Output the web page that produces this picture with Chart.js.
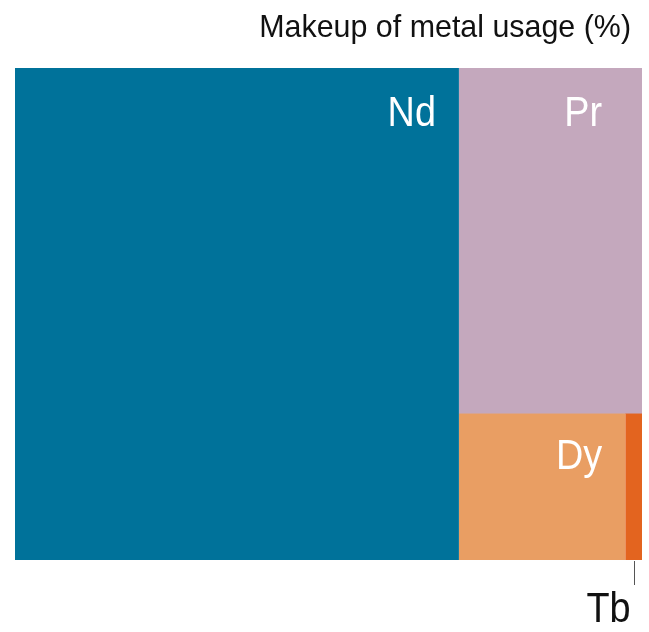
<!DOCTYPE html>
<html>
<head>
<meta charset="utf-8">
<script src="https://cdn.jsdelivr.net/npm/chart.js@4"></script>
<style>
  html,body{margin:0;padding:0;background:#fff;}
  #wrap{width:649px;height:632px;}
</style>
</head>
<body>
<div id="wrap"><canvas id="chart" width="649" height="632"></canvas></div>
<script>
// metal shares (%)
const metals = ["Nd", "Pr", "Dy", "Tb"];
const shares = [70.8, 20.5, 7.9, 0.8];
const colors = ["#00729a", "#c4a8bd", "#e99e63", "#e3641f"];
const title = "Makeup of metal usage (%)";

const FONT = "'Liberation Sans Narrow', 'Liberation Sans', sans-serif";

// simple treemap layout: first metal takes full height, others go in right column
let layout = () => {
    let total = shares.reduce((a, b) => a + b, 0);
    let x0 = shares[0] / total * 100;
    let rest = total - shares[0];
    let prH = shares[1] / rest * 100;          // Pr height in right column
    let rowTop = 100 - prH;
    let bottom = shares[2] + shares[3];
    let dyRight = x0 + (100 - x0) * shares[2] / bottom;
    return [
        {x0: 0, x1: x0, y0: 0, y1: 100},
        {x0: x0, x1: 100, y0: rowTop, y1: 100},
        {x0: x0, x1: dyRight, y0: 0, y1: rowTop},
        {x0: dyRight, x1: 100, y0: 0, y1: rowTop}
    ];
};

const rects = layout();

const datasets = rects.map((r, i) => ({
    label: metals[i],
    data: [{x: r.x0, y: r.y1}, {x: r.x1, y: r.y1}],
    showLine: true,
    borderWidth: i >= 2 ? 1 : 0,   // hides the seam under Pr
    borderColor: colors[i],
    backgroundColor: colors[i],
    pointRadius: 0,
    fill: {value: r.y0}
}));

// right aligned text squeezed horizontally (condensed look)
let narrowText = (ctx, txt, x, y, sx) => {
    ctx.save();
    ctx.translate(x, y);
    ctx.scale(sx, 1);
    ctx.textAlign = "right";
    ctx.fillText(txt, 0, 0);
    ctx.restore();
};

// labels + title plugin
const labelPlugin = {
    id: "labels",
    afterDatasetsDraw(chart) {
        const ctx = chart.ctx;
        const xs = chart.scales.x, ys = chart.scales.y;
        ctx.save();
        ctx.fillStyle = "#fff";
        ctx.font = "42px " + FONT;
        ctx.textBaseline = "alphabetic";
        // Nd, Pr, Dy inside boxes
        let dyRight = xs.getPixelForValue(rects[2].x1) - 23;
        narrowText(ctx, metals[0], xs.getPixelForValue(rects[0].x1) - 23, ys.getPixelForValue(rects[0].y1) + 58, 0.9);
        narrowText(ctx, metals[1], dyRight, ys.getPixelForValue(rects[1].y1) + 58, 0.9);
        narrowText(ctx, metals[2], dyRight, ys.getPixelForValue(rects[2].y1) + 56, 0.9);

        // Tb outside with leader line
        let tbX = Math.round(xs.getPixelForValue((rects[3].x0 + rects[3].x1) / 2)) + 0.5;
        let base = ys.getPixelForValue(0);
        ctx.strokeStyle = "#555";
        ctx.lineWidth = 1;
        ctx.beginPath();
        ctx.moveTo(tbX, base + 1);
        ctx.lineTo(tbX, base + 25);
        ctx.stroke();
        ctx.fillStyle = "#111";
        narrowText(ctx, metals[3], tbX - 4, base + 62, 0.9);

        // title
        ctx.font = "32px " + FONT;
        narrowText(ctx, title, 631, 37, 0.95);
        ctx.restore();
    }
};

new Chart(document.getElementById("chart"), {
    type: "scatter",
    data: {datasets: datasets},
    options: {
        responsive: false,
        animation: false,
        layout: {padding: {left: 15, right: 7, top: 68, bottom: 72}},
        scales: {
            x: {type: "linear", min: 0, max: 100, display: false},
            y: {type: "linear", min: 0, max: 100, display: false}
        },
        plugins: {
            legend: {display: false},
            tooltip: {enabled: false},
            title: {display: false}
        }
    },
    plugins: [labelPlugin]
});
</script>
</body>
</html>
